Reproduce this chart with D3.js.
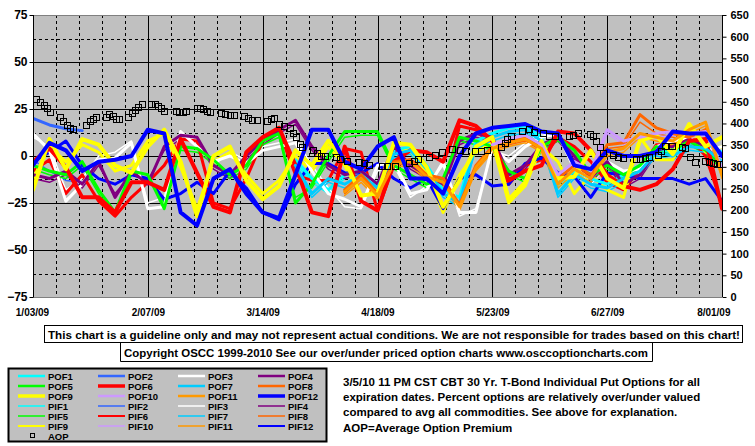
<!DOCTYPE html>
<html><head><meta charset="utf-8">
<script src="https://cdn.jsdelivr.net/npm/d3@7"></script>
<style>
body{margin:0;background:#fff}
text{font-family:Arial,"Liberation Sans",sans-serif;font-weight:bold;fill:#000}
</style>
</head><body><svg id="c" width="755" height="446"></svg>
<script>
// ---------- DATA ----------
const N = null; // no quote on that date
const startDate = Date.UTC(2009, 0, 3);
const endDate = Date.UTC(2009, 7, 1);
const leftTicks = [75, 50, 25, 0, -25, -50, -75];
const leftMinor = [62.5, 37.5, 12.5, -12.5, -37.5, -62.5];
const rightTicks = [0, 50, 100, 150, 200, 250, 300, 350, 400, 450, 500, 550, 600, 650];
const xLabelDays = [0, 35, 70, 105, 140, 175, 210];

// sample days (days after 1/03/09) for the option series
const days = [0,5,10,15,20,25,30,35,40,45,50,55,60,65,70,75,80,85,90,95,100,105,110,115,120,125,130,135,140,145,150,155,160,165,170,175,180,185,190,195,200,205,210];

const pof1 = [N,N,N,N,N,N,N,N,N,N, N,N,N,N,N,N,-2,-12,-18,-10, -8,-15,3,5,-5,-18,-22,8,12,15, 16,10,-15,-8,-12,-15,-10,-5,4,2, 7,6,2];
const pof2 = [20,16.5,14.5,13.5];
const pof3 = [12,3,-24,-15,-2,-1,7,-28,-27,13, 5,-3,0,-4,3,5,7,-8,-20,-23, -27,-5,-3,-20,-18,-3,-30,-30,5,-3, 5,10,12,-7,-12,-3,-8,-7,5,8, 10,3,5];
const pof4 = [-10,-12,-8,-15,-3,-22,-8,-15,5,11, 10,-5,-10,0,8,14,19,5,-5,-10, -8,-15,5,-5,-10,-15,8,12,10,-10, -5,6,10,0,-12,-3,-15,-10,3,5, 9,5,-5];
const pof5 = [-5,-8,-10,-3,-18,-30,-8,-10,-28,5, 4,-2,-10,-5,8,12,-25,-15,0,13, 13,13,-5,-10,-15,-12,10,8,5,-8, -12,5,10,3,-10,-5,-10,-5,5,3, 8,3,-5];
const pof6 = [-3,4,-6,-22,-22,-30,-14,-14,-18,9, -9,-27,-30,2,10,15,-5,-30,-32,5, -24,-29,-3,3,2,-3,19,16,8,-13, -8,-5,13,12,3,-10,-16,-18,-15,-7, 8,9,-28];
const pof7 = [N,N,N,N,N,N,N,N,N,N, N,N,N,N,N,N,-5,-20,-12,-15, -10,-17,1,3,-7,-20,-25,6,10,13, 14,8,-20,-10,-15,-17,-12,-8,2,0, 5,4,-3];
const pof8 = [N,N,N,N,N,N,N,N,N,N, N,N,N,N,N,N,N,N,N,-18, -10,-20,-3,-2,-10,-12,-26,-5,5,8, 10,5,-12,-5,-10,6,7,22,15,12, 10,14,-8];
const pof9 = [-18,9,-7,9,6,-5,-9,5,14,-3, -32,0,5,-13,-23,-16,3,-5,8,-2, -21,-20,7,6,-6,-27,-13,5,10,-23, -14,8,-12,-11,3,-12,-17,8,11,1, 17,5,10];
const pof10 = [N,N,N,N,N,N,N,N,N,N, N,N,N,N,N,N,N,N,N,N, N,N,N,N,N,N,N,N,6,9, 11,6,-10,-3,-8,14,8,10,12,13, 12,13,-6];
const pof11 = [N,N,N,N,N,N,N,N,N,N, N,N,N,N,N,N,N,N,N,-19, -12,-21,-4,-3,-11,-14,-27,-6,4,7, 9,4,-15,-7,-12,2,4,12,10,8, 14,18,-10];
const pof12 = [-5,7,3,-8,-3,-2,0,14,12,-30, -37,-12,-7,-20,-30,-33,-10,14,14,-3, -7,5,10,-12,-12,-20,0,12,15,16, 17,13,12,-5,-7,3,0,0,2,13, 12,12,0];

const pif1 = [N,N,N,N,N,N,N,N,N,N, N,N,N,N,N,N,-4,-14,-20,-12, -10,-17,1,3,-7,-20,-24,6,10,13, 14,8,-17,-10,-14,-17,-12,-7,2,0, 5,4,0];
const pif2 = [-2,-8,-13,-14];
const pif3 = [10,5,-18,-12,0,2,8,-25,-22,12, 8,-5,2,-2,5,7,9,-5,-17,-27, -28,-8,-5,-22,-16,-5,-32,-28,3,0, 7,12,10,-5,-15,-5,-10,-9,3,6, 8,1,3];
const pif4 = [-12,-14,-10,-17,-5,-20,-10,-13,3,9, 8,-7,-12,-2,6,12,17,3,-7,-12, -10,-17,3,-7,-12,-17,6,10,8,-12, -7,4,8,-2,-14,-5,-17,-12,1,3, 7,3,-7];
const pif5 = [-7,-10,-12,-5,-20,-32,-10,-12,-25,3, 2,-4,-12,-7,6,10,-22,-17,-3,10, 11,11,-7,-12,-17,-14,8,6,3,-10, -14,3,8,1,-12,-7,-12,-7,3,1, 6,1,-7];
const pif6 = [-8,-2,-20,-10,-24,-32,-22,-14,-5,9, 8,-25,-28,-12,8,13,-10,-13,-13,4, 2,-29,-5,-2,-9,-20,16,14,5,-15, -5,-2,10,5,-3,-14,-18,-7,6,6, 10,0,-26];
const pif7 = [N,N,N,N,N,N,N,N,N,N, N,N,N,N,N,N,-7,-22,-14,-17, -12,-19,-1,1,-9,-22,-27,4,8,11, 12,6,-22,-12,-17,-19,-14,-10,0,-2, 3,2,-5];
const pif8 = [N,N,N,N,N,N,N,N,N,N, N,N,N,N,N,N,N,N,N,-20, -12,-22,-5,-4,-12,-14,-28,-7,3,6, 8,3,-14,-7,-12,4,5,18,12,10, 8,12,-10];
const pif9 = [-12,5,-3,6,2,-8,-5,8,12,-6, -28,-3,2,-10,-20,-13,0,-8,5,-5, -22,-18,4,3,-9,-30,-10,2,7,-25, -16,5,-3,-20,-10,-18,-22,10,-2,-2, 15,2,5];
const pif10 = [N,N,N,N,N,N,N,N,N,N, N,N,N,N,N,N,N,N,N,N, N,N,N,N,N,N,N,N,4,7, 9,4,-12,-5,-10,12,6,8,10,11, 10,11,-8];
const pif11 = [N,N,N,N,N,N,N,N,N,N, N,N,N,N,N,N,N,N,N,-21, -14,-23,-6,-5,-13,-16,-29,-8,2,5, 7,2,-17,-9,-14,0,2,10,8,6, 12,16,-12];
const pif12 = [-3,2,8,-5,-12,-15,-10,-12,-23,-20, -14,-20,-8,-17,-30,-34,-15,-4,-4,-9, -9,-4,-12,-17,-12,-28,-12,-10,-16,-15, -4,-1,-9,-11,-22,-9,-10,-12,-12,-12, -15,-12,-24];

// Average Option Premium (right axis)
const aopDays = [1,2,3.4,4.3,5.2,8.2,9.1,10.4,11.3,12.2, 16.2,17.4,18.3,19.2,22.2,23.2,24.4,25.3,26.2,29, 30.2,31.1,32,33.2,36,37.2,38.1,39,39.9,43.6, 44.5,45.7,46.6,50,50.9,51.8,53,53.9,57.3,58.5, 60,61.3,64.3,65.5,66.7,68.3,71.3,72.5,73.5,75, 76.5,78.3,79.2,80.2,81.4,82,85.3,86.7,87.9,89.1, 92.4,93.6,95.6,99.4,100.9,102.4,106.4,107.9,110.3,114.6, 116.1,117.3,120.7,122.5,124.6,127.6,130.1,131.7,134.7,136.5, 138.4,142.5,143.9,144.5,145.7,149,151.2,152.7,155.4,157.3, 159.1,163.4,164.6,166.1,169.8,170.7,171.6,172.8,173.7,176.8, 178.3,179.8,183.8,185,186.5,187.7,190.5,191.4,192.6,194.8, 197.8,198.7,200.3,201.8,204.8,206,207.3,208.5,209.4];
const aopValues = [456,450,443,436,427,415,406,397,390,387, 397,406,410,415,415,422,417,410,410,415, 424,431,438,445,445,445,440,436,429,429, 426,426,429,436,436,433,429,427,424,422, 420,420,418,413,408,407,406,410,413,399, 393,389,379,369,353,345,339,333,325,324, 322,317,314,312,308,304,302,302,302,310, 314,317,323,327,335,340,339,337,337,337, 339,346,354,364,371,383,387,381,379,371, 370,370,373,377,375,370,360,346,331,327, 323,321,318,318,320,322,327,337,349,349, 345,343,323,312,314,311,308,306,306];

const disclaimer = "This chart is a guideline only and may not represent actual conditions. We are not responsible for trades based on this chart!";
const copyright = "Copyright OSCC 1999-2010 See our over/under priced option charts www.osccoptioncharts.com";
const notes = ["3/5/10 11 PM CST CBT 30 Yr. T-Bond Individual Put Options for all",
  "expiration dates. Percent options are relatively over/under valued",
  "compared to avg all commodities. See above for explanation.",
  "AOP=Average Option Premium"];

// ---------- STYLES ----------
const colors = {1:"#00FFFF",2:"#3366FF",3:"#FFFFFF",4:"#800080",5:"#00FF00",6:"#FF0000",7:"#00CCFF",8:"#FF6600",9:"#FFFF00",10:"#CC99FF",11:"#FF9900",12:"#0000FF"};
const pofData = [pof1,pof2,pof3,pof4,pof5,pof6,pof7,pof8,pof9,pof10,pof11,pof12];
const pifData = [pif1,pif2,pif3,pif4,pif5,pif6,pif7,pif8,pif9,pif10,pif11,pif12];
const series = [];
const heavy = n => n===6||n===9||n===12;
pofData.forEach((arr,i)=>{const n=i+1; series.push({name:"POF"+n,data:arr,color:colors[n],w:heavy(n)?4:3,leg:heavy(n)?3.5:2.5});});
pifData.forEach((arr,i)=>{const n=i+1; series.push({name:"PIF"+n,data:arr,color:colors[n],w:heavy(n)?3:1.5,leg:heavy(n)?2:1.5});});

// ---------- CHART ----------
const svg = d3.select("#c");
const L=33, R=722, T=15, B=297;
const toDate = d => new Date(startDate + d*86400000);
const x = d3.scaleUtc().domain([new Date(startDate), new Date(endDate)]).range([L,R]);
const y = d3.scaleLinear().domain([-75,75]).range([B,T]);
const y2 = d3.scaleLinear().domain([0,650]).range([B,T]);

svg.append("rect").attr("x",L).attr("y",T).attr("width",R-L).attr("height",B-T).attr("fill","#C0C0C0");
svg.append("defs").append("clipPath").attr("id","clip").append("rect").attr("x",L).attr("y",T).attr("width",R-L).attr("height",B-T);

const grid = svg.append("g").attr("shape-rendering","crispEdges");
leftMinor.forEach(v=>grid.append("line").attr("x1",L).attr("x2",R).attr("y1",Math.round(y(v))+0.5).attr("y2",Math.round(y(v))+0.5).attr("stroke","#000").attr("stroke-dasharray","3,3"));
leftTicks.filter(v=>Math.abs(v)<75).forEach(v=>grid.append("line").attr("x1",L).attr("x2",R).attr("y1",Math.round(y(v))+0.5).attr("y2",Math.round(y(v))+0.5).attr("stroke","#000"));
const weeks = d3.utcDay.range(new Date(startDate), new Date(endDate), 7).slice(1);
weeks.forEach((d,i)=>{
  const major = (i+1)%5===0;
  grid.append("line").attr("x1",Math.round(x(d))+0.5).attr("x2",Math.round(x(d))+0.5).attr("y1",T).attr("y2",B)
    .attr("stroke","#000").attr("stroke-dasharray",major?null:"3,3");
});

const plot = svg.append("g").attr("clip-path","url(#clip)");
const line = d3.line().defined(p=>p.v!=null).x(p=>x(toDate(p.d))).y(p=>y(p.v));
const order = series.filter(s=>s.name.startsWith("PIF")).concat(series.filter(s=>s.name.startsWith("POF")));
order.forEach(s=>{
  const pts = s.data.map((v,i)=>({d:days[i],v:v}));
  plot.append("path").attr("d",line(pts)).attr("fill","none").attr("stroke",s.color)
    .attr("stroke-width",s.w).attr("stroke-linejoin","round").attr("stroke-linecap","round");
});
aopDays.forEach((d,i)=>{
  plot.append("rect").attr("x",Math.round(x(toDate(d)))-3+0.5).attr("y",Math.round(y2(aopValues[i]))-3+0.5)
    .attr("width",6).attr("height",6).attr("fill","none").attr("stroke","#000").attr("stroke-width",1);
});

// borders
svg.append("line").attr("x1",L).attr("x2",R).attr("y1",T+0.5).attr("y2",T+0.5).attr("stroke","#808080");
svg.append("line").attr("x1",L).attr("x2",R).attr("y1",B+0.5).attr("y2",B+0.5).attr("stroke","#808080");

// axes
const ax = svg.append("g").attr("transform",`translate(${L+0.5},0)`)
  .call(d3.axisLeft(y).tickValues(leftTicks).tickSize(4).tickPadding(2).tickFormat(d3.format("d")));
ax.select(".domain").attr("d",`M0,${T}V${B}`).attr("stroke","#000");
ax.selectAll("text").style("font-size","12px").style("font-family","Arial").style("font-weight","bold");
const ar = svg.append("g").attr("transform",`translate(${R+0.5},0)`)
  .call(d3.axisRight(y2).tickValues(rightTicks).tickSize(4).tickPadding(4).tickFormat(d3.format("d")));
ar.select(".domain").attr("d",`M0,${T}V${B}`).attr("stroke","#000");
ar.selectAll("text").style("font-size","11px").style("font-family","Arial").style("font-weight","bold");
const fmt = d3.utcFormat("%-m/%d/%y");
const ab = svg.append("g").attr("transform",`translate(0,${B})`)
  .call(d3.axisBottom(x).tickValues(xLabelDays.map(toDate)).tickSize(0).tickPadding(12).tickFormat(fmt));
ab.select(".domain").remove();
ab.selectAll("text").style("font-size","10px").style("font-family","Arial").style("font-weight","bold");
ab.selectAll(".tick").filter((d,i)=>i===xLabelDays.length-1).select("text").attr("text-anchor","end").attr("x",8);
ab.selectAll(".tick").filter((d,i)=>i===0).select("text").attr("x",-1);
svg.selectAll(".tick line").attr("stroke","#000");

// text boxes
svg.append("rect").attr("x",44.5).attr("y",325.5).attr("width",698).attr("height",17).attr("fill","#fff").attr("stroke","#000");
svg.append("text").attr("x",48).attr("y",338.5).attr("font-size","11px").attr("textLength",692).attr("lengthAdjust","spacingAndGlyphs").text(disclaimer);
svg.append("path").attr("d","M120.5,342.5V361.5H652.5V342.5").attr("fill","none").attr("stroke","#000");
svg.append("text").attr("x",124).attr("y",356.5).attr("font-size","11px").attr("textLength",524).attr("lengthAdjust","spacingAndGlyphs").text(copyright);

// legend
svg.append("rect").attr("x",8.5).attr("y",368.5).attr("width",318).attr("height",73).attr("fill","#C0C0C0").attr("stroke","#000").attr("stroke-width",2);
series.forEach((s,i)=>{
  const col = i%4, row = Math.floor(i/4);
  const lx = 18 + col*80, ly = 376 + row*10;
  svg.append("line").attr("x1",lx).attr("x2",lx+27).attr("y1",ly).attr("y2",ly).attr("stroke",s.color).attr("stroke-width",s.leg);
  svg.append("text").attr("x",lx+30).attr("y",ly+3.5).attr("font-size","9.5px").text(s.name);
});
svg.append("rect").attr("x",30.5).attr("y",433.5).attr("width",4).attr("height",4).attr("fill","none").attr("stroke","#000");
svg.append("text").attr("x",48).attr("y",439.5).attr("font-size","9.5px").text("AOP");

// notes
const noteY = [385.5, 400.5, 416, 431.5];
notes.forEach((t,i)=>{
  svg.append("text").attr("x",343).attr("y",noteY[i]).attr("font-size","11.5px").text(t);
});
</script>
</body></html>
